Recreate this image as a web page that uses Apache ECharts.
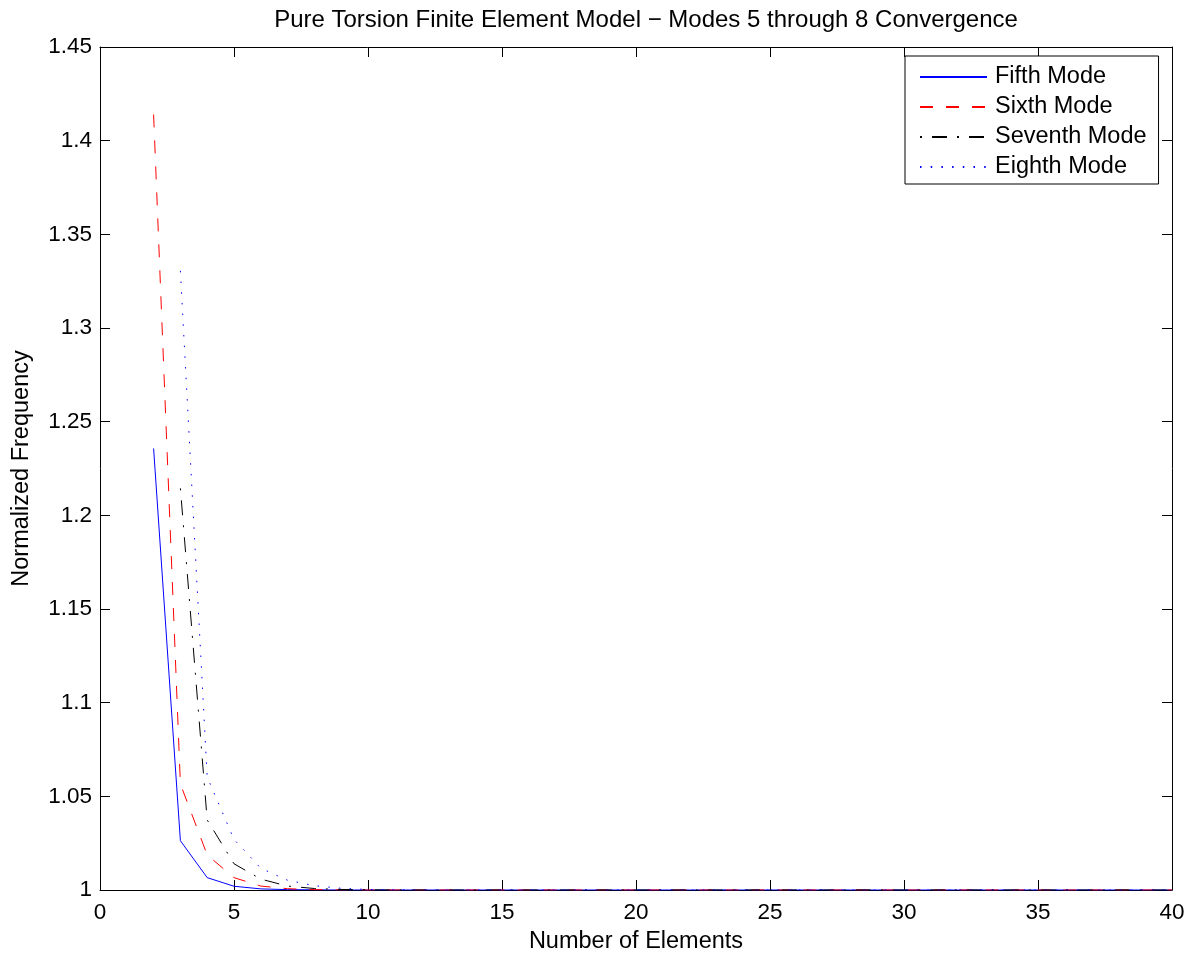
<!DOCTYPE html>
<html>
<head>
<meta charset="utf-8">
<script src="https://cdn.jsdelivr.net/npm/echarts@6/dist/echarts.min.js"></script>
<style>
  html, body { margin: 0; padding: 0; background: #fff; }
  #chart { width: 1198px; height: 957px; }
</style>
</head>
<body>
<div id="chart"></div>
<script>
// Number of finite elements used in each run
const elements = [2, 3, 4, 5, 6, 7, 8, 9, 10, 11, 12, 13, 14, 15, 16, 17, 18, 19, 20,
  21, 22, 23, 24, 25, 26, 27, 28, 29, 30, 31, 32, 33, 34, 35, 36, 37, 38, 39, 40];

// Normalized natural frequencies (FE result / exact) for torsion modes 5-8
const fifthMode = [1.2357, 1.0263, 1.0066, 1.0020, 1.0006, 1.0002, 1.0001, 1.0000, 1.0000,
  1.0000, 1.0000, 1.0000, 1.0000, 1.0000, 1.0000, 1.0000, 1.0000, 1.0000, 1.0000,
  1.0000, 1.0000, 1.0000, 1.0000, 1.0000, 1.0000, 1.0000, 1.0000, 1.0000, 1.0000,
  1.0000, 1.0000, 1.0000, 1.0000, 1.0000, 1.0000, 1.0000, 1.0000, 1.0000, 1.0000];
const sixthMode = [1.4140, 1.0566, 1.0187, 1.0066, 1.0021, 1.0007, 1.0002, 1.0001, 1.0000,
  1.0000, 1.0000, 1.0000, 1.0000, 1.0000, 1.0000, 1.0000, 1.0000, 1.0000, 1.0000,
  1.0000, 1.0000, 1.0000, 1.0000, 1.0000, 1.0000, 1.0000, 1.0000, 1.0000, 1.0000,
  1.0000, 1.0000, 1.0000, 1.0000, 1.0000, 1.0000, 1.0000, 1.0000, 1.0000, 1.0000];
const seventhMode = [null, 1.2144, 1.0374, 1.0140, 1.0058, 1.0021, 1.0008, 1.0003, 1.0001,
  1.0000, 1.0000, 1.0000, 1.0000, 1.0000, 1.0000, 1.0000, 1.0000, 1.0000, 1.0000,
  1.0000, 1.0000, 1.0000, 1.0000, 1.0000, 1.0000, 1.0000, 1.0000, 1.0000, 1.0000,
  1.0000, 1.0000, 1.0000, 1.0000, 1.0000, 1.0000, 1.0000, 1.0000, 1.0000, 1.0000];
const eighthMode = [null, 1.3305, 1.0603, 1.0270, 1.0116, 1.0052, 1.0023, 1.0009, 1.0003,
  1.0001, 1.0000, 1.0000, 1.0000, 1.0000, 1.0000, 1.0000, 1.0000, 1.0000, 1.0000,
  1.0000, 1.0000, 1.0000, 1.0000, 1.0000, 1.0000, 1.0000, 1.0000, 1.0000, 1.0000,
  1.0000, 1.0000, 1.0000, 1.0000, 1.0000, 1.0000, 1.0000, 1.0000, 1.0000, 1.0000];

const seriesNames = ['Fifth Mode', 'Sixth Mode', 'Seventh Mode', 'Eighth Mode'];

const FONT = '"Liberation Sans", Arial, Helvetica, sans-serif';

function pairs(values) {
  return elements.map((x, i) => [x, values[i]]);
}

function lineSeries(name, values, color, dash) {
  return {
    name: name,
    type: 'line',
    data: pairs(values),
    symbol: 'none',
    showSymbol: false,
    connectNulls: false,
    animation: false,
    clip: true,
    lineStyle: { color: color, width: 1, type: dash, cap: 'butt' },
    itemStyle: { color: color }
  };
}

// MATLAB-style box: ticks pointing into the plot on all four sides
function boxAxis(position, labelMargin, extra) {
  const axis = {
    type: 'value',
    position: position,
    axisLine: { show: true, onZero: false, lineStyle: { color: '#000', width: 1 } },
    axisTick: { show: true, inside: true, length: 10, lineStyle: { color: '#000', width: 1 } },
    axisLabel: labelMargin != null
      ? { show: true, inside: false, margin: labelMargin, color: '#000', fontFamily: FONT, fontSize: 22.5 }
      : { show: false },
    splitLine: { show: false }
  };
  return Object.assign(axis, extra);
}

const xRange = { min: 0, max: 40, interval: 5 };
const yRange = { min: 1, max: 1.45, interval: 0.05 };

const chart = echarts.init(document.getElementById('chart'), null, { renderer: 'canvas' });

chart.setOption({
  backgroundColor: '#fff',
  animation: false,
  title: {
    text: 'Pure Torsion Finite Element Model \u2212 Modes 5 through 8 Convergence',
    left: 641,
    textAlign: 'center',
    top: 3,
    textStyle: { color: '#000', fontFamily: FONT, fontSize: 24, fontWeight: 'normal' }
  },
  grid: { left: 100, right: 26, top: 47, bottom: 67, containLabel: false, outerBoundsMode: 'none' },
  legend: {
    orient: 'vertical',
    left: 905,
    top: 56,
    data: seriesNames,
    itemWidth: 67,
    itemHeight: 14,
    itemGap: 6,
    padding: [9, 12, 5, 14],
    backgroundColor: '#fff',
    borderColor: '#000',
    borderWidth: 1,
    borderRadius: 0,
    itemStyle: { color: 'rgba(0,0,0,0)', borderWidth: 0, borderColor: 'rgba(0,0,0,0)' },
    textStyle: { color: '#000', fontFamily: FONT, fontSize: 23.5, lineHeight: 24, padding: [0, 0, 0, 3] }
  },
  xAxis: [
    boxAxis('bottom', 11, Object.assign({
      name: 'Number of Elements',
      nameLocation: 'middle',
      nameGap: 40,
      nameTextStyle: { color: '#000', fontFamily: FONT, fontSize: 23.5 }
    }, xRange)),
    boxAxis('top', null, Object.assign({}, xRange))
  ],
  yAxis: [
    boxAxis('left', 8, Object.assign({
      name: 'Normalized Frequency',
      nameLocation: 'middle',
      nameGap: 66,
      nameRotate: 90,
      nameTextStyle: { color: '#000', fontFamily: FONT, fontSize: 23.5 }
    }, yRange)),
    boxAxis('right', null, Object.assign({}, yRange))
  ],
  series: [
    lineSeries(seriesNames[0], fifthMode, '#0000ff', 'solid'),
    lineSeries(seriesNames[1], sixthMode, '#ff0000', [13, 13]),
    lineSeries(seriesNames[2], seventhMode, '#000000', [2, 10, 15, 10]),
    lineSeries(seriesNames[3], eighthMode, '#0000ff', [1.5, 9.2])
  ]
});
</script>
</body>
</html>
